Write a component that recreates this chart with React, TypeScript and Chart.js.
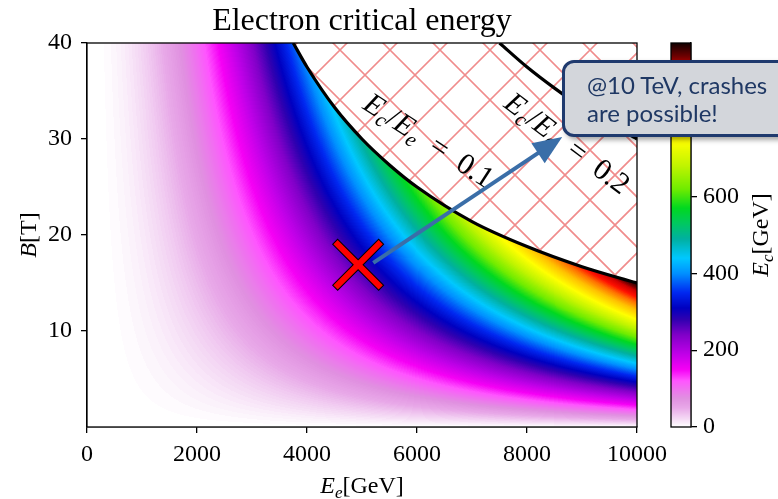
import React, { useEffect, useRef } from "react";
import { Chart, registerables } from "chart.js";

Chart.register(...registerables);

// ---------------- data ----------------
const xTicks = [0, 2000, 4000, 6000, 8000, 10000];
const yTicks = [10, 20, 30, 40];
const cbTicks = [0, 200, 400, 600, 800];

const xRange = [0, 10000];
const yRange = [0, 40];
const cbRange = [0, 1000];

// Field model: Ec = k * Ee^2 * B  (Ec/Ee = 0.1 reaches B = 15 T at Ee = 10000 GeV)
const ecCoeff = 6.67e-7;
const ratioLimit = 0.1;
const bandStep = 2.5;

// Boundary curves (Ee [GeV], B [T])
const curve01E = [3750, 4000, 4500, 5000, 5500, 6000, 7000, 8000, 9000, 10000];
const curve01B = [40, 37.5, 33.3, 30, 27.3, 25, 21.4, 18.8, 16.7, 15];
const curve02E = [7500, 8000, 8500, 9000, 9500, 10000];
const curve02B = [40, 37.5, 35.3, 33.3, 31.6, 30];

// Marker and arrow (Ee [GeV], B [T])
const crossE = [4930];
const crossB = [16.9];
const arrowE = [5205, 8640];
const arrowB = [17.1, 30.2];

// Curve labels
const labelValues = ["0.1", "0.2"];
const labelE = [6220, 8740];
const labelB = [29.9, 29.6];

// Colour map (Ec [GeV] -> colour)
const cmapValues = [0, 20, 50, 75, 100, 120, 150, 190, 240, 280, 310, 350, 400, 440, 490, 530, 570, 620, 680, 745, 810, 860, 900, 940, 965, 1000];
const cmapColors = [
  "#ffffff", "#f5dcf5", "#e8a8e8", "#e090e0", "#f070f0", "#ff55ff", "#f500f5", "#c000e8",
  "#8000c8", "#3000b0", "#0000c0", "#0028f0", "#0090ff", "#00c8ff", "#00b0a0", "#00c860",
  "#00d820", "#70ec00", "#c0f400", "#ffff00", "#ffc000", "#ff7000", "#ff1000", "#d00000",
  "#700000", "#100000",
];

const boxLines = ["@10 TeV, crashes", "are possible!"];

// ---------------- helpers ----------------
const SERIF = "'Liberation Serif', 'DejaVu Serif', serif";

function hexToRgb(h: string) {
  const n = parseInt(h.slice(1), 16);
  return [(n >> 16) & 255, (n >> 8) & 255, n & 255];
}
const cmapRgb = cmapColors.map(hexToRgb);
function colorAt(v: number): number[] {
  if (v <= cmapValues[0]) return cmapRgb[0];
  for (let i = 1; i < cmapValues.length; i++) {
    if (v <= cmapValues[i]) {
      const t = (v - cmapValues[i - 1]) / (cmapValues[i] - cmapValues[i - 1]);
      const a = cmapRgb[i - 1];
      const b = cmapRgb[i];
      return [a[0] + (b[0] - a[0]) * t, a[1] + (b[1] - a[1]) * t, a[2] + (b[2] - a[2]) * t];
    }
  }
  return cmapRgb[cmapRgb.length - 1];
}
function bandColor(v: number) {
  const q = Math.floor(Math.max(0, v) / bandStep) * bandStep;
  return colorAt(q);
}

type Seg = { t: string; it?: boolean; sub?: boolean };
function segFont(s: Seg, size: number) {
  return `${s.it ? "italic " : ""}${s.sub ? Math.round(size * 0.7) : size}px ${SERIF}`;
}
function drawMath(ctx: CanvasRenderingContext2D, segs: Seg[], size: number, x: number, y: number) {
  const ws = segs.map((s) => {
    ctx.font = segFont(s, size);
    return ctx.measureText(s.t).width;
  });
  const total = ws.reduce((a, b) => a + b, 0);
  let cx = x - total / 2;
  ctx.textAlign = "left";
  ctx.textBaseline = "alphabetic";
  segs.forEach((s, i) => {
    ctx.font = segFont(s, size);
    ctx.fillText(s.t, cx, y + (s.sub ? size * 0.2 : 0));
    cx += ws[i];
  });
}

const tickFont = { family: SERIF, size: 24 };

// ---------------- plugins ----------------
const heatmapPlugin = {
  id: "heatmap",
  beforeDatasetsDraw(chart: any) {
    const { ctx, chartArea: a, scales } = chart;
    const xs = scales.x;
    const ys = scales.y;
    const L = Math.floor(a.left);
    const T = Math.floor(a.top);
    const W = Math.ceil(a.right) - L;
    const H = Math.ceil(a.bottom) - T;
    const off = document.createElement("canvas");
    off.width = W;
    off.height = H;
    const o = off.getContext("2d")!;
    o.fillStyle = "#ffffff";
    o.fillRect(0, 0, W, H);
    // hatch
    o.save();
    o.translate(-L, -T);
    o.strokeStyle = "#f08c8c";
    o.lineWidth = 1.6;
    o.beginPath();
    const sp = 50;
    for (let c = 40 - sp * 20; c < 1400; c += sp) {
      o.moveTo(c, 0);
      o.lineTo(c + 700, 700);
    }
    for (let c = 40 - sp * 2; c < 2000; c += sp) {
      o.moveTo(c, 0);
      o.lineTo(c - 700, 700);
    }
    o.stroke();
    o.restore();
    const img = o.getImageData(0, 0, W, H);
    const d = img.data;
    for (let py = 0; py < H; py++) {
      const B = Math.max(0, ys.getValueForPixel(T + py + 0.5));
      for (let px = 0; px < W; px++) {
        const E = Math.max(1e-6, xs.getValueForPixel(L + px + 0.5));
        const ec = ecCoeff * E * E * B;
        if (ec / E > ratioLimit) continue;
        const c = bandColor(ec);
        const i = (py * W + px) * 4;
        d[i] = c[0];
        d[i + 1] = c[1];
        d[i + 2] = c[2];
        d[i + 3] = 255;
      }
    }
    o.putImageData(img, 0, 0);
    ctx.drawImage(off, L, T);
  },
};

const overlayPlugin = {
  id: "overlay",
  afterDatasetsDraw(chart: any) {
    const { ctx, chartArea: a, scales } = chart;
    const xs = scales.x;
    const ys = scales.y;
    ctx.save();
    // frame
    ctx.strokeStyle = "#000";
    ctx.lineWidth = 1.3;
    ctx.strokeRect(a.left, a.top, a.right - a.left, a.bottom - a.top);

    ctx.fillStyle = "#000";
    // title
    ctx.font = `32px ${SERIF}`;
    ctx.textAlign = "center";
    ctx.textBaseline = "alphabetic";
    ctx.fillText("Electron critical energy", (a.left + a.right) / 2, 30);

    // axis labels
    drawMath(ctx, [{ t: "E", it: true }, { t: "e", it: true, sub: true }, { t: "[GeV]" }], 24, (a.left + a.right) / 2, 493);
    ctx.save();
    ctx.translate(36, (a.top + a.bottom) / 2);
    ctx.rotate(-Math.PI / 2);
    drawMath(ctx, [{ t: "B", it: true }, { t: "[T]" }], 24, 0, 0);
    ctx.restore();

    // curve labels
    const angles = [33, 37];
    labelValues.forEach((lv, i) => {
      ctx.save();
      ctx.beginPath();
      ctx.rect(a.left, a.top, a.right - a.left, a.bottom - a.top);
      ctx.clip();
      ctx.translate(xs.getPixelForValue(labelE[i]), ys.getPixelForValue(labelB[i]));
      ctx.rotate((angles[i] * Math.PI) / 180);
      drawMath(
        ctx,
        [
          { t: "E", it: true },
          { t: "c", it: true, sub: true },
          { t: "/" },
          { t: "E", it: true },
          { t: "e", it: true, sub: true },
          { t: "\u2002=\u2002" + lv },
        ],
        30,
        0,
        10
      );
      ctx.restore();
    });

    // arrow
    const x0 = xs.getPixelForValue(arrowE[0]);
    const y0 = ys.getPixelForValue(arrowB[0]);
    const x1 = xs.getPixelForValue(arrowE[1]);
    const y1 = ys.getPixelForValue(arrowB[1]);
    const ang = Math.atan2(y1 - y0, x1 - x0);
    const headL = 29;
    const headW = 12;
    const bx = x1 - Math.cos(ang) * headL;
    const by = y1 - Math.sin(ang) * headL;
    ctx.strokeStyle = "#3a6ea8";
    ctx.fillStyle = "#3a6ea8";
    ctx.lineWidth = 4;
    ctx.beginPath();
    ctx.moveTo(x0, y0);
    ctx.lineTo(bx + Math.cos(ang) * 4, by + Math.sin(ang) * 4);
    ctx.stroke();
    ctx.beginPath();
    ctx.moveTo(x1, y1);
    ctx.lineTo(bx + Math.sin(ang) * headW, by - Math.cos(ang) * headW);
    ctx.lineTo(bx - Math.sin(ang) * headW, by + Math.cos(ang) * headW);
    ctx.closePath();
    ctx.fill();

    // red cross marker
    const mx = xs.getPixelForValue(crossE[0]);
    const my = ys.getPixelForValue(crossB[0]);
    const armL = 32;
    const armW = 6;
    const arms = (ang2: number) => {
      ctx.save();
      ctx.translate(mx, my);
      ctx.rotate(ang2);
      ctx.beginPath();
      ctx.rect(-armL, -armW / 2, armL * 2, armW);
      ctx.restore();
    };
    ctx.lineJoin = "miter";
    ctx.strokeStyle = "#000";
    ctx.lineWidth = 2;
    [Math.PI / 4, -Math.PI / 4].forEach((g) => {
      arms(g);
      ctx.stroke();
    });
    ctx.fillStyle = "#ff0000";
    [Math.PI / 4, -Math.PI / 4].forEach((g) => {
      arms(g);
      ctx.fill();
    });
    ctx.restore();
  },
};

const colorbarPlugin = {
  id: "colorbar",
  beforeDatasetsDraw(chart: any) {
    const { ctx, chartArea: a, scales } = chart;
    const ys = scales.y;
    ctx.save();
    for (let py = Math.floor(a.top); py < Math.ceil(a.bottom); py++) {
      const v = ys.getValueForPixel(py + 0.5);
      const c = colorAt(v);
      ctx.fillStyle = `rgb(${Math.round(c[0])},${Math.round(c[1])},${Math.round(c[2])})`;
      ctx.fillRect(a.left, py, a.right - a.left, 1);
    }
    ctx.strokeStyle = "#000";
    ctx.lineWidth = 1.3;
    ctx.strokeRect(a.left, a.top, a.right - a.left, a.bottom - a.top);
    ctx.restore();
  },
  afterDraw(chart: any) {
    const { ctx, chartArea: a } = chart;
    ctx.save();
    ctx.fillStyle = "#000";
    ctx.translate(768, (a.top + a.bottom) / 2);
    ctx.rotate(-Math.PI / 2);
    drawMath(ctx, [{ t: "E", it: true }, { t: "c", it: true, sub: true }, { t: "[GeV]" }], 24, 0, 0);
    ctx.restore();
  },
};

export default function App() {
  const mainRef = useRef<HTMLCanvasElement>(null);
  const cbRef = useRef<HTMLCanvasElement>(null);

  useEffect(() => {
    const axisGrid = { drawOnChartArea: false, drawTicks: true, tickLength: 6, color: "#000", lineWidth: 1.3 };
    const axisBorder = { display: true, color: "#000", width: 1.3 };
    const main = new Chart(mainRef.current!, {
      type: "line",
      data: {
        datasets: [
          {
            data: curve01E.map((e, i) => ({ x: e, y: curve01B[i] })),
            borderColor: "#000",
            borderWidth: 3.2,
            pointRadius: 0,
            cubicInterpolationMode: "monotone",
            fill: false,
          },
          {
            data: curve02E.map((e, i) => ({ x: e, y: curve02B[i] })),
            borderColor: "#000",
            borderWidth: 3.2,
            pointRadius: 0,
            cubicInterpolationMode: "monotone",
            fill: false,
          },
        ],
      },
      options: {
        animation: false,
        responsive: false,
        events: [],
        layout: { padding: { left: 0, top: 43, right: 141, bottom: 0 } },
        plugins: { legend: { display: false }, tooltip: { enabled: false }, title: { display: false } },
        scales: {
          x: {
            type: "linear",
            min: xRange[0],
            max: xRange[1],
            afterBuildTicks: (s: any) => {
              s.ticks = xTicks.map((v) => ({ value: v }));
            },
            afterFit: (s: any) => {
              s.height = 72;
            },
            ticks: { font: tickFont, color: "#000", padding: 7, maxRotation: 0, autoSkip: false, callback: (v: any) => String(v) },
            grid: axisGrid,
            border: axisBorder,
          },
          y: {
            type: "linear",
            min: yRange[0],
            max: yRange[1],
            afterBuildTicks: (s: any) => {
              s.ticks = yTicks.map((v) => ({ value: v }));
            },
            afterFit: (s: any) => {
              s.width = 87;
            },
            ticks: { font: tickFont, color: "#000", padding: 9, autoSkip: false, callback: (v: any) => String(v) },
            grid: axisGrid,
            border: axisBorder,
          },
        },
      } as any,
      plugins: [heatmapPlugin, overlayPlugin],
    });

    const cb = new Chart(cbRef.current!, {
      type: "scatter",
      data: { datasets: [] },
      options: {
        animation: false,
        responsive: false,
        events: [],
        layout: { padding: { left: 671, top: 43, right: 0, bottom: 72 } },
        plugins: { legend: { display: false }, tooltip: { enabled: false } },
        scales: {
          x: { type: "linear", display: false, min: 0, max: 1 },
          y: {
            type: "linear",
            position: "right",
            min: cbRange[0],
            max: cbRange[1],
            afterBuildTicks: (s: any) => {
              s.ticks = cbTicks.map((v) => ({ value: v }));
            },
            afterFit: (s: any) => {
              s.width = 87;
            },
            ticks: { font: tickFont, color: "#000", padding: 6, autoSkip: false, callback: (v: any) => String(v) },
            grid: axisGrid,
            border: axisBorder,
          },
        },
      } as any,
      plugins: [colorbarPlugin],
    });

    return () => {
      main.destroy();
      cb.destroy();
    };
  }, []);

  const canvasStyle: React.CSSProperties = { position: "absolute", left: 0, top: 0, width: 778, height: 499 };

  return (
    <div style={{ position: "absolute", left: 0, top: 0, width: 778, height: 499, overflow: "hidden", background: "#fff" }}>
      <canvas ref={mainRef} width={778} height={499} style={canvasStyle} />
      <canvas ref={cbRef} width={778} height={499} style={{ ...canvasStyle, pointerEvents: "none" }} />
      <div
        style={{
          position: "absolute",
          left: 562,
          top: 60,
          width: 240,
          height: 77,
          boxSizing: "border-box",
          border: "3px solid #1f3a6e",
          borderRadius: 12,
          background: "#d3d6db",
          boxShadow: "3px 3px 5px rgba(0,0,0,0.35)",
          fontFamily: "Lato, 'Open Sans', sans-serif",
          fontSize: 24,
          lineHeight: "28px",
          color: "#1f3864",
          paddingLeft: 22,
          paddingTop: 8,
          whiteSpace: "nowrap",
        }}
      >
        {boxLines[0]}
        <br />
        {boxLines[1]}
      </div>
    </div>
  );
}
